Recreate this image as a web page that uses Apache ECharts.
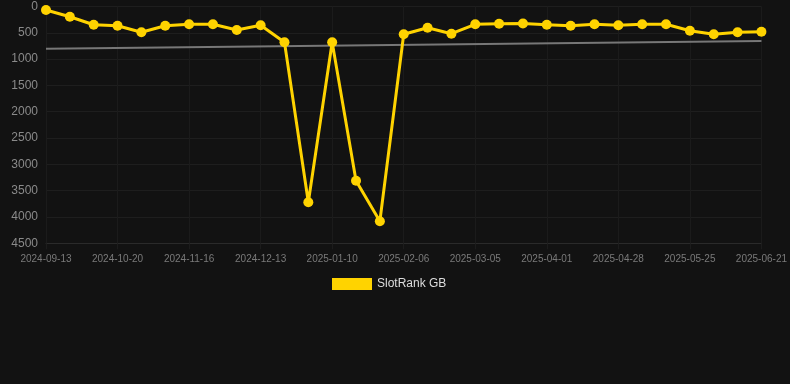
<!DOCTYPE html>
<html>
<head>
<meta charset="utf-8">
<script src="https://cdn.jsdelivr.net/npm/echarts@6/dist/echarts.min.js"></script>
<style>
html,body{margin:0;padding:0;background:#121212;}
#chart{width:790px;height:384px;}
</style>
</head>
<body>
<div id="chart"></div>
<script>
const categories = [
  '2024-09-13','2024-09-25','2024-10-08','2024-10-20','2024-10-29','2024-11-07','2024-11-16',
  '2024-11-25','2024-12-04','2024-12-13','2024-12-22','2025-01-01','2025-01-10','2025-01-19',
  '2025-01-28','2025-02-06','2025-02-15','2025-02-24','2025-03-05','2025-03-14','2025-03-23',
  '2025-04-01','2025-04-10','2025-04-19','2025-04-28','2025-05-07','2025-05-16','2025-05-25',
  '2025-06-03','2025-06-12','2025-06-21'
];
const slotRankGB = [
  67, 194, 346, 365, 490, 365, 338, 338, 447, 357,
  680, 3721, 680, 3310, 4082, 528, 403, 517, 338, 327,
  322, 346, 365, 338, 357, 338, 338, 460, 528, 490, 479
];
const trendStart = 802;
const trendEnd = 656;
const yTicks = [0, 500, 1000, 1500, 2000, 2500, 3000, 3500, 4000, 4500];

const trendData = categories.map((c, i) => i === 0 ? trendStart : (i === categories.length - 1 ? trendEnd : null));

const chart = echarts.init(document.getElementById('chart'));
chart.setOption({
  backgroundColor: '#121212',
  animation: false,
  grid: { left: 46, right: 28, top: 6.5, bottom: 140.7 },
  legend: {
    data: ['SlotRank GB'],
    left: 327, top: 273,
    itemWidth: 40, itemHeight: 12, itemGap: 10,
    textStyle: { color: '#dddddd', fontSize: 12, fontFamily: 'Liberation Sans, Arial, sans-serif' },
    icon: 'rect'
  },
  xAxis: {
    type: 'category',
    data: categories,
    boundaryGap: false,
    axisLine: { onZero: false, lineStyle: { color: '#2a2a2a' } },
    axisTick: { show: true, interval: 2, length: 6, lineStyle: { color: '#1c1c1c' } },
    axisLabel: { interval: 2, color: '#7a7a7a', fontSize: 10, margin: 11, fontFamily: 'Liberation Sans, Arial, sans-serif' },
    splitLine: { show: true, interval: 2, lineStyle: { color: '#1b1b1b' } }
  },
  yAxis: {
    type: 'value',
    inverse: true,
    min: yTicks[0], max: yTicks[yTicks.length - 1], interval: 500,
    axisLine: { show: false },
    axisTick: { show: false },
    axisLabel: { color: '#8a8a8a', fontSize: 12, margin: 8, fontFamily: 'Liberation Sans, Arial, sans-serif',
      formatter: v => String(v) },
    splitLine: { lineStyle: { color: '#1e1e1e' } }
  },
  series: [
    {
      name: 'Trend',
      type: 'line',
      data: trendData,
      connectNulls: true,
      symbol: 'none',
      lineStyle: { color: '#777', width: 2 },
      z: 1
    },
    {
      name: 'SlotRank GB',
      type: 'line',
      data: slotRankGB,
      symbol: 'circle',
      symbolSize: 10,
      itemStyle: { color: '#ffd300' },
      lineStyle: { color: '#ffd300', width: 3 },
      z: 3
    }
  ]
});
</script>
</body>
</html>
